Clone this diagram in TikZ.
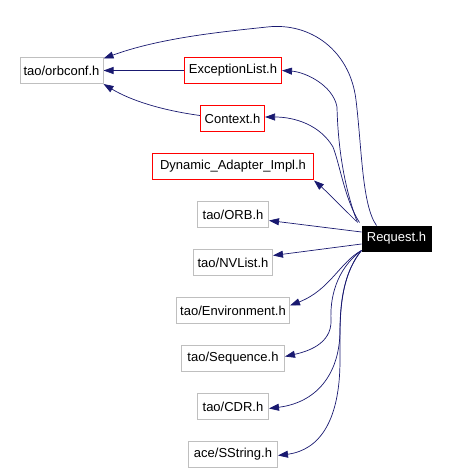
\documentclass[tikz,border=0pt]{standalone}
\usepackage{fontspec}
\setmainfont{Liberation Sans}
\usetikzlibrary{arrows.meta,calc}
\definecolor{edgeblue}{HTML}{191970}
\definecolor{greybd}{HTML}{BFBFBF}
\pgfdeclarelayer{edges}
\pgfsetlayers{edges,main}
\begin{document}
\begin{tikzpicture}[x=1pt,y=-1pt,
  box/.style={draw=greybd,fill=white,line width=1pt,inner sep=0pt,minimum height=26pt,font=\fontsize{13pt}{15pt}\selectfont,anchor=center},
  redbox/.style={box,draw=red},
  reqbox/.style={box,draw=black,fill=black,text=white},
  dep/.style={draw=edgeblue,line width=0.7pt,-{Triangle[length=10pt,width=7pt]},fill=none},
]
\useasboundingbox (0,0) rectangle (448,472);
\node[box,minimum width=83pt] (conf) at (61.5,70.5) {tao/orbconf.h};
\node[redbox,minimum width=97pt] (exc) at (233,70.5) {ExceptionList.h};
\node[redbox,minimum width=64pt] (ctx) at (232.5,118.5) {Context.h};
\node[redbox,minimum width=161pt] (dyn) at (233,166.5) {Dynamic\_Adapter\_Impl.h};
\node[box,minimum width=71pt] (orb) at (233,214.5) {tao/ORB.h};
\node[reqbox,minimum width=69pt,minimum height=25pt] (req) at (396.5,238.5) {Request.h};
\node[box,minimum width=79pt] (nvl) at (233,262.5) {tao/NVList.h};
\node[box,minimum width=113pt] (env) at (233,310.5) {tao/Environment.h};
\node[box,minimum width=103pt] (seq) at (233,358.5) {tao/Sequence.h};
\node[box,minimum width=71pt] (cdr) at (233,406.5) {tao/CDR.h};
\node[box,minimum width=89pt] (sst) at (233,454.5) {ace/SString.h};
\begin{pgfonlayer}{edges}
\draw[dep] ($(req.north)+(-20,0)$) .. controls (362,205) and (362,150) .. (356,100)
   .. controls (350,50) and (310,22) .. (267,27)
   .. controls (220,32) and (160,38) .. ($(conf.north east)+(0,1.5)$);
\draw[dep] (exc.west) -- (conf.east);
\draw[dep] ($(ctx.west)+(0,-3)$) .. controls (160,110) and (130,100) .. ($(conf.south east)$);
\draw[dep] ($(req.north west)+(-4,-3)$) .. controls (345,190) and (338,150) .. (337,107)
   .. controls (333,85) and (305,72) .. (exc.east);
\draw[dep] ($(req.north west)+(-2,-3)$) .. controls (345,200) and (340,165) .. (333,147)
   .. controls (320,125) and (295,117) .. ($(ctx.east)+(0,-1.5)$);
\draw[dep] ($(req.north west)+(-5,-4)$) .. controls (340,205) and (325,190) .. ($(dyn.south east)+(0,0.5)$);
\draw[dep] ($(req.west)+(0,-6.5)$) -- ($(orb.east)+(0,6)$);
\draw[dep] ($(req.west)+(0,5.5)$) -- ($(nvl.east)+(0,-7)$);
\draw[dep] ($(req.south west)+(0,-1)$) .. controls (340,262) and (330,290) .. ($(env.east)+(0,-5)$);
\draw[dep] ($(req.south west)+(0,-1)$) .. controls (335,270) and (330,300) .. (331,320)
   .. controls (332,345) and (305,352) .. ($(seq.east)+(0,-2)$);
\draw[dep] ($(req.south west)+(0,-1)$) .. controls (345,270) and (340,300) .. (340,330)
   .. controls (340,370) and (320,402) .. ($(cdr.east)+(0,2)$);
\draw[dep] ($(req.south west)+(0,-1)$) .. controls (338,280) and (340,320) .. (340,360)
   .. controls (340,420) and (320,450) .. ($(sst.east)+(0,1)$);
\end{pgfonlayer}
\end{tikzpicture}
\end{document}
